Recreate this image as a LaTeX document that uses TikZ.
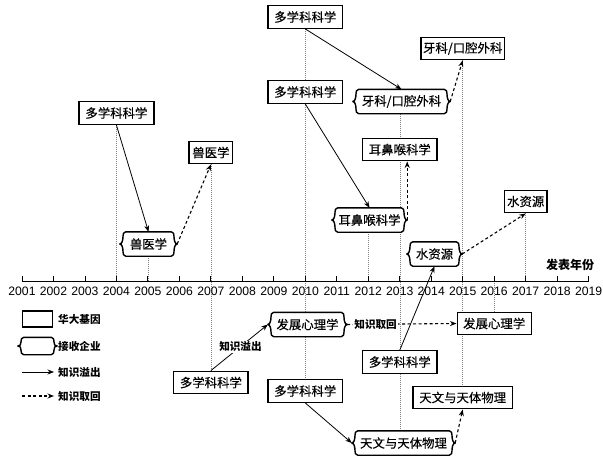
\documentclass[tikz,border=0pt]{standalone}
\usepackage{fontspec}
\setmainfont{Noto Sans CJK SC}
\newfontfamily\boxface{Noto Sans CJK SC}[FakeBold=0.35]
\newfontfamily\yearface{Liberation Sans}
\usetikzlibrary{arrows.meta}
\pgfdeclarelayer{bglines}
\pgfdeclarelayer{hexlayer}
\pgfsetlayers{bglines,hexlayer,main}
\newcommand{\boxfnt}{\boxface\fontsize{12.4}{14}\selectfont}
\newcommand{\lblfnt}{\fontsize{10.6}{12}\selectfont\bfseries}
\newcommand{\hexo}[1]{%
  \begin{pgfonlayer}{hexlayer}
  \draw[boxline, fill=white, line join=round]
    ([xshift=6pt]#1.north west) -- ([xshift=-6pt]#1.north east)
    .. controls +(2.5pt,0) and +(0,2pt) .. ([xshift=-3.2pt,yshift=-4.5pt]#1.north east)
    .. controls +(0,-3pt) and +(-2.5pt,0) .. (#1.east)
    .. controls +(-2.5pt,0) and +(0,3pt) .. ([xshift=-3.2pt,yshift=4.5pt]#1.south east)
    .. controls +(0,-2pt) and +(2.5pt,0) .. ([xshift=-6pt]#1.south east)
    -- ([xshift=6pt]#1.south west)
    .. controls +(-2.5pt,0) and +(0,-2pt) .. ([xshift=3.2pt,yshift=4.5pt]#1.south west)
    .. controls +(0,3pt) and +(2.5pt,0) .. (#1.west)
    .. controls +(2.5pt,0) and +(0,-3pt) .. ([xshift=3.2pt,yshift=-4.5pt]#1.north west)
    .. controls +(0,2pt) and +(-2.5pt,0) .. ([xshift=6pt]#1.north west) -- cycle;
  \end{pgfonlayer}}
\tikzset{
  boxline/.style={line width=1.4pt, black},
  rbox/.style={rectangle, draw, boxline, fill=white, inner sep=0pt,
    minimum height=22.5pt, minimum width=#1, font=\boxfnt},
  hexn/.style={rectangle, inner sep=0pt, minimum height=24pt, minimum width=#1, font=\boxfnt},
  spill/.style={-{Stealth[length=6.5pt,width=5pt]}, line width=0.8pt},
  fetch/.style={-{Stealth[length=6.5pt,width=5pt]}, line width=1.1pt, dash pattern=on 3pt off 2.5pt},
  yearline/.style={gray, line width=0.5pt, dash pattern=on 1pt off 1pt},
  lbl/.style={font=\lblfnt, inner sep=1pt},
  yrlbl/.style={font=\yearface\fontsize{12.2}{14}\selectfont, inner sep=0pt}
}
\begin{document}
\begin{tikzpicture}[x=1pt, y=-1pt]
\useasboundingbox (0,0) rectangle (603,456);
% axis
\coordinate (axl) at (22,281);
\coordinate (axr) at (589,281);
\draw[line width=0.9pt] (axl) -- (axr);
\foreach \yr in {2001,...,2019}{
  \draw[line width=0.9pt] ({22+31.48*(\yr-2001)},276) -- ({22+31.48*(\yr-2001)},281);
  \node[yrlbl] (y\yr) at ({22+31.48*(\yr-2001)},291.5) {\yr};
}
\node[font=\fontsize{12}{14}\selectfont\bfseries, inner sep=0pt] (axt) at (570,265) {发表年份};

% BGI (rect) nodes
\node[rbox=74.5pt] (m1) at (305.3,17) {多学科科学};
\node[rbox=74.5pt] (m2) at (305.3,92) {多学科科学};
\node[rbox=83.5pt] (d1) at (462.7,48.5) {牙科/口腔外科};
\node[rbox=74.5pt] (e1) at (399.8,149.5) {耳鼻喉科学};
\node[rbox=75pt] (m3) at (116.4,113) {多学科科学};
\node[rbox=43.5pt] (v1) at (210.9,152.5) {兽医学};
\node[rbox=42.5pt] (w1) at (525.7,201.5) {水资源};
\node[rbox=74pt] (p2) at (494.2,323.5) {发展心理学};
\node[rbox=74.5pt] (m4) at (210.9,382.5) {多学科科学};
\node[rbox=74.5pt] (m5) at (399.8,362) {多学科科学};
\node[rbox=74.5pt] (m6) at (305.3,391) {多学科科学};
\node[rbox=99.5pt] (t1) at (462.7,397.5) {天文与天体物理};

% receiving-company (hex) nodes
\node[hexn=97pt] (d2) at (401.5,101.5) {牙科/口腔外科}; \hexo{d2}
\node[hexn=75pt] (e2) at (369.5,220) {耳鼻喉科学}; \hexo{e2}
\node[hexn=57pt] (v2) at (148.5,244) {兽医学}; \hexo{v2}
\node[hexn=55pt] (w2) at (434.5,254) {水资源}; \hexo{w2}
\node[hexn=79pt] (p1) at (307.5,324.5) {发展心理学}; \hexo{p1}
\node[hexn=103pt] (t2) at (403.5,443) {天文与天体物理}; \hexo{t2}

% year guide lines
\begin{pgfonlayer}{bglines}
\draw[yearline] (m3.south) -- (m3.south |- axl);
\draw[yearline] (v2.south -| y2005) -- (y2005 |- axl);
\draw[yearline] (v1.south) -- (m4.north);
\draw[yearline] (m1.south) -- (m6.north);
\draw[yearline] (e2.south -| y2012) -- (y2012 |- axl);
\draw[yearline] (d2.south -| y2013) -- (t2.north -| y2013);
\draw[yearline] (d1.south) -- (t1.north);
\draw[yearline] (p2.north |- axl) -- (p2.north);
\draw[yearline] (w1.south) -- (w1.south |- axl);
\end{pgfonlayer}

% knowledge spillover
\draw[spill] (m1.south) -- (d2.north);
\draw[spill] (m2.south) -- (e2.north);
\draw[spill] (m3.south) -- (v2.north);
\draw[spill] (m5.north) -- (w2.south);
\draw[spill] (m4.north) -- node[lbl, fill=white, pos=0.52] (lab1) {知识溢出} (p1.west);
\draw[spill] (m6.south) -- (t2.west);
% knowledge retrieval
\draw[fetch] (d2.east) -- (d1.south);
\draw[fetch] (e2.east) -- (e2.east |- e1.south);
\draw[fetch] (v2.east) -- (v1.south);
\draw[fetch] (w2.east) -- (w1.south);
\draw[fetch] (p1.east) -- node[lbl, fill=white, pos=0.26] (lab2) {知识取回} (p2.west);
\draw[fetch] (t2.east) -- (t1.south);

% legend
\node[rectangle, draw, boxline, minimum width=30pt, minimum height=16pt, inner sep=0pt] (lr) at (37.5,319) {};
\node[lbl, anchor=west] (lrt) at (57,319) {华大基因};
\node[hexn=39pt, minimum height=17pt] (lh) at (37.5,346) {}; \hexo{lh}
\node[lbl, anchor=west] (lht) at (57,346) {接收企业};
\coordinate (la1) at (22,372);
\coordinate (la2) at (54,372);
\draw[spill] (la1) -- (la2);
\node[lbl, anchor=west] (lat) at (57,372) {知识溢出};
\coordinate (lb1) at (22,396);
\coordinate (lb2) at (54,396);
\draw[fetch] (lb1) -- (lb2);
\node[lbl, anchor=west] (lbt) at (57,396) {知识取回};
\end{tikzpicture}
\end{document}
